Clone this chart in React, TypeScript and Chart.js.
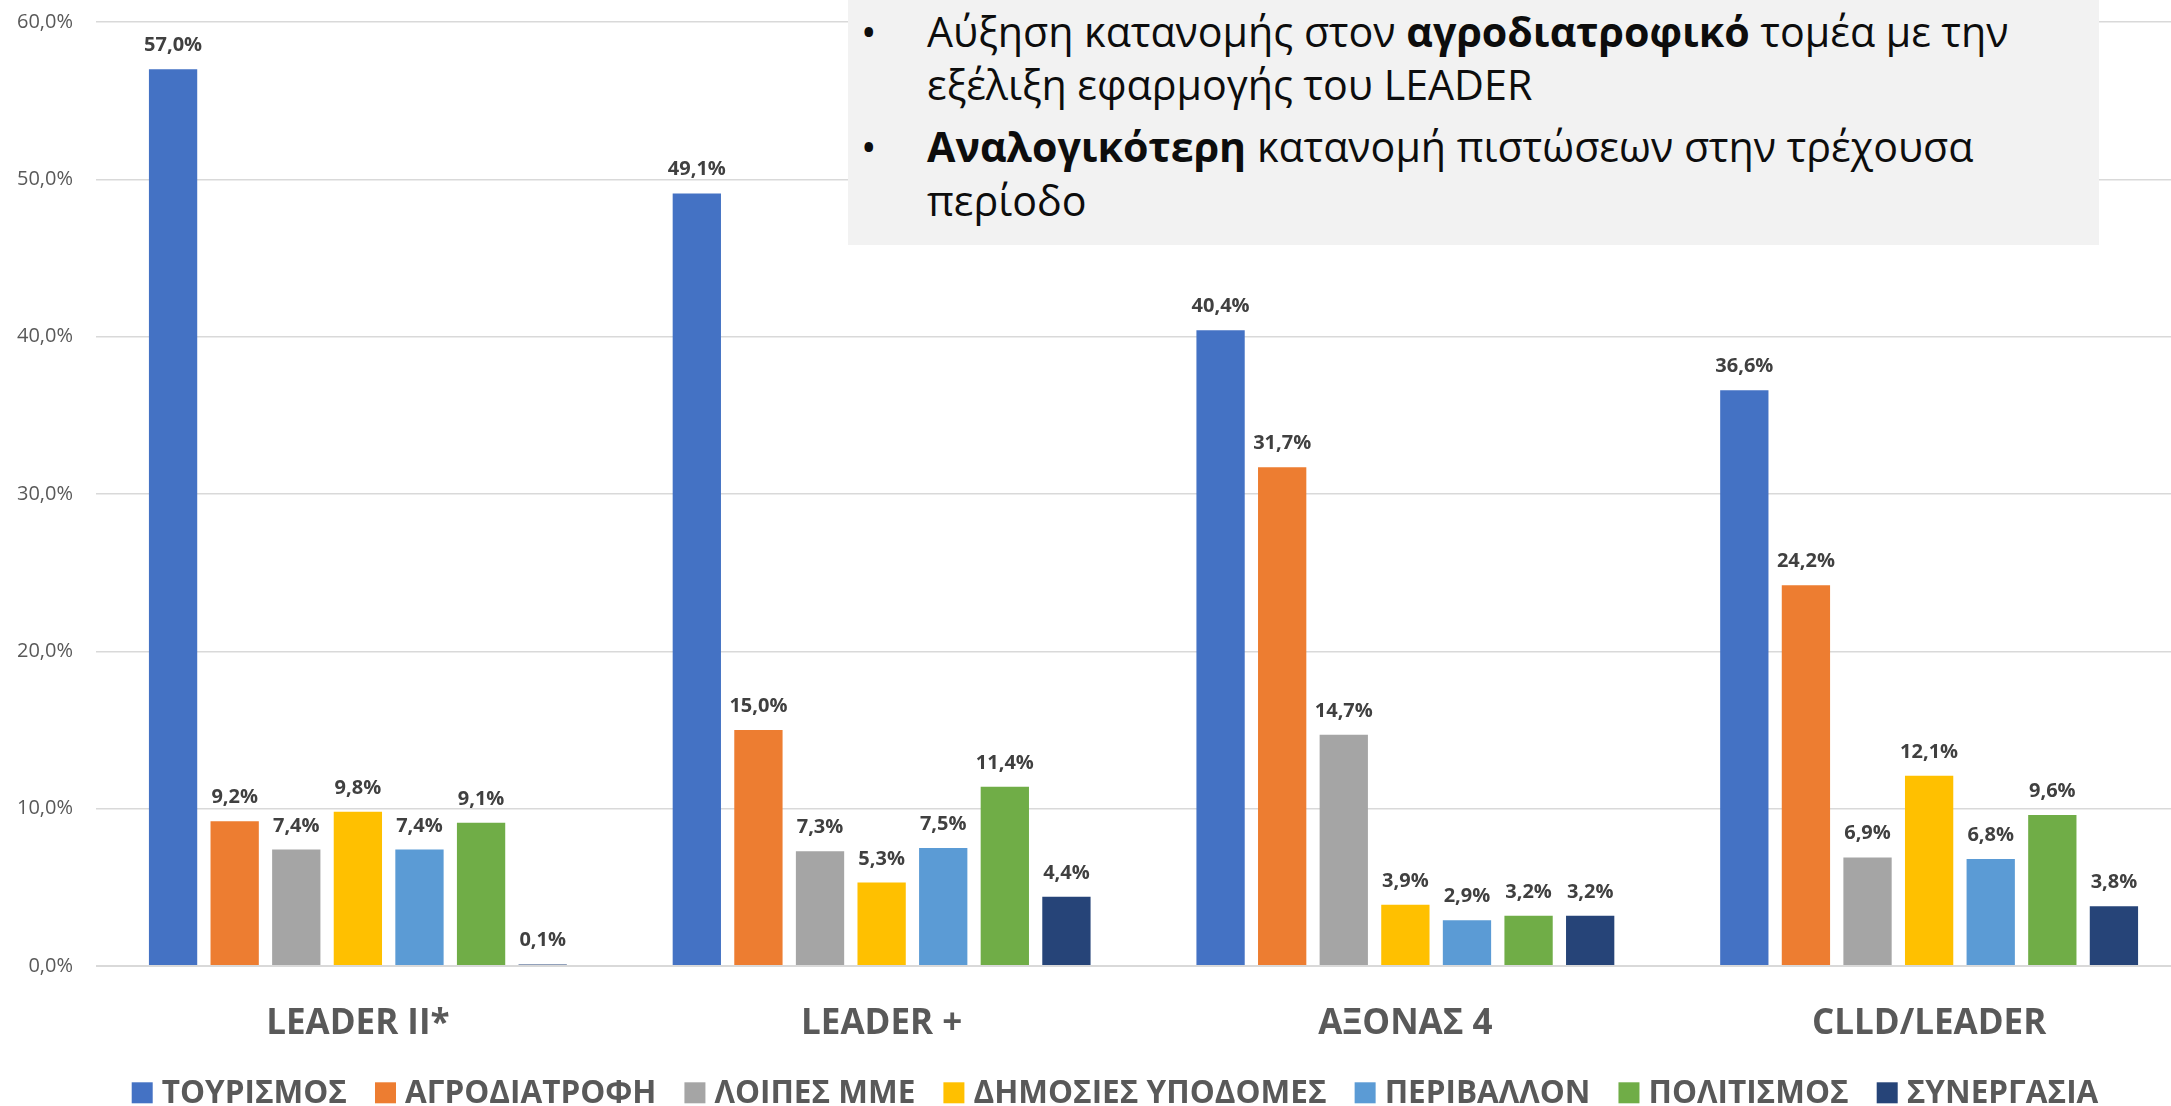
import React, { useEffect, useRef } from 'react';
import { Chart, registerables } from 'chart.js';

Chart.register(...registerables);

const categories = ['LEADER II*', 'LEADER +', 'ΑΞΟΝΑΣ 4', 'CLLD/LEADER'];
const seriesNames = ['ΤΟΥΡΙΣΜΟΣ', 'ΑΓΡΟΔΙΑΤΡΟΦΗ', 'ΛΟΙΠΕΣ ΜΜΕ', 'ΔΗΜΟΣΙΕΣ ΥΠΟΔΟΜΕΣ', 'ΠΕΡΙΒΑΛΛΟΝ', 'ΠΟΛΙΤΙΣΜΟΣ', 'ΣΥΝΕΡΓΑΣΙΑ'];
const seriesColors = ['#4472C4', '#ED7D31', '#A5A5A5', '#FFC000', '#5B9BD5', '#70AD47', '#264478'];

const tourism = [57.0, 49.1, 40.4, 36.6];
const agrifood = [9.2, 15.0, 31.7, 24.2];
const otherSme = [7.4, 7.3, 14.7, 6.9];
const publicInfra = [9.8, 5.3, 3.9, 12.1];
const environment = [7.4, 7.5, 2.9, 6.8];
const culture = [9.1, 11.4, 3.2, 9.6];
const cooperation = [0.1, 4.4, 3.2, 3.8];
const seriesValues = [tourism, agrifood, otherSme, publicInfra, environment, culture, cooperation];

const yTickValues = [0, 10, 20, 30, 40, 50, 60];

const FONT = '"Open Sans", "DejaVu Sans", sans-serif';
const fmt = (v: number) => v.toFixed(1).replace('.', ',') + '%';

const dataLabelPlugin = {
  id: 'dataLabels',
  afterDatasetsDraw(chart: any) {
    const ctx = chart.ctx;
    ctx.save();
    ctx.font = `bold 20px ${FONT}`;
    ctx.fillStyle = '#404040';
    ctx.textAlign = 'center';
    ctx.textBaseline = 'alphabetic';
    chart.data.datasets.forEach((ds: any, i: number) => {
      const meta = chart.getDatasetMeta(i);
      meta.data.forEach((bar: any, j: number) => {
        ctx.fillText(fmt(ds.data[j]), bar.x, bar.y - 18);
      });
    });
    ctx.restore();
  },
};

const legendPlugin = {
  id: 'customLegend',
  afterDraw(chart: any) {
    const ctx = chart.ctx;
    ctx.save();
    ctx.font = `bold 31.5px ${FONT}`;
    const box = 21;
    const gap = 9;
    const itemGap = 28;
    const widths = seriesNames.map((n) => ctx.measureText(n).width);
    const total = widths.reduce((a, w) => a + box + gap + w, 0) + itemGap * (seriesNames.length - 1);
    let x = 1115 - total / 2;
    const baseline = 1103.3;
    ctx.textBaseline = 'alphabetic';
    ctx.textAlign = 'left';
    seriesNames.forEach((n, i) => {
      ctx.fillStyle = seriesColors[i];
      ctx.fillRect(x, baseline - box, box, box);
      ctx.fillStyle = '#595959';
      ctx.fillText(n, x + box + gap, baseline);
      x += box + gap + widths[i] + itemGap;
    });
    ctx.restore();
  },
};

export default function App() {
  const canvasRef = useRef<HTMLCanvasElement | null>(null);

  useEffect(() => {
    if (!canvasRef.current) return;
    const chart = new Chart(canvasRef.current, {
      type: 'bar',
      data: {
        labels: categories,
        datasets: seriesNames.map((name, i) => ({
          label: name,
          data: seriesValues[i],
          backgroundColor: seriesColors[i],
          borderWidth: 0,
          categoryPercentage: 0.8233,
          barPercentage: 0.784,
        })),
      },
      options: {
        responsive: false,
        animation: false,
        devicePixelRatio: 1,
        layout: { padding: { top: 22, right: 39, left: 0, bottom: 0 } },
        plugins: {
          legend: { display: false },
          tooltip: { enabled: false },
          title: { display: false },
        },
        scales: {
          x: {
            grid: { display: false, drawTicks: false },
            border: { display: false },
            ticks: {
              color: '#595959',
              font: { family: FONT, size: 35, weight: 'bold' },
              padding: 37,
              maxRotation: 0,
            },
            afterFit: (scale: any) => {
              scale.height = 140;
            },
          },
          y: {
            min: 0,
            max: 60,
            afterBuildTicks: (scale: any) => {
              scale.ticks = yTickValues.map((v) => ({ value: v }));
            },
            grid: {
              color: '#d9d9d9',
              lineWidth: (c: any) => (c.tick && c.tick.value === 0 ? 2 : 1.4),
              drawTicks: false,
            },
            border: { display: false },
            ticks: {
              color: '#595959',
              font: { family: FONT, size: 20 },
              padding: 23,
              callback: (v: any) => fmt(Number(v)),
            },
            afterFit: (scale: any) => {
              scale.width = 96;
              scale.paddingTop = 0;
              scale.paddingBottom = 0;
            },
          },
        },
      },
      plugins: [dataLabelPlugin, legendPlugin],
    } as any);
    return () => chart.destroy();
  }, []);

  const FS = 41.2;
  const LH = 53;
  const baseOff = (LH - 1.362 * FS) / 2 + 1.069 * FS;
  const lineStyle = (baseline: number): React.CSSProperties => ({
    position: 'absolute',
    left: 79,
    top: baseline - baseOff,
    height: LH,
    lineHeight: `${LH}px`,
    fontSize: FS,
    fontFamily: FONT,
    color: '#0d0d0d',
    whiteSpace: 'nowrap',
  });
  const bulletStyle = (baseline: number): React.CSSProperties => ({
    ...lineStyle(baseline),
    left: 13,
  });

  return (
    <div
      style={{
        position: 'fixed',
        left: 0,
        top: 0,
        width: 2171,
        height: 1106,
        overflow: 'hidden',
        background: '#ffffff',
      }}
    >
      <canvas ref={canvasRef} width={2230} height={1106} style={{ display: 'block', width: 2230, height: 1106 }} />
      <div
        style={{
          position: 'absolute',
          left: 848,
          top: 0,
          width: 1251,
          height: 245,
          background: '#f2f2f2',
        }}
      >
        <div style={bulletStyle(47)}>•</div>
        <div style={lineStyle(47)}>
          Αύξηση κατανομής στον <b>αγροδιατροφικό</b> τομέα με την
        </div>
        <div style={lineStyle(100)}>εξέλιξη εφαρμογής του LEADER</div>
        <div style={bulletStyle(162)}>•</div>
        <div style={lineStyle(162)}>
          <b>Αναλογικότερη</b> κατανομή πιστώσεων στην τρέχουσα
        </div>
        <div style={lineStyle(216)}>περίοδο</div>
      </div>
    </div>
  );
}
